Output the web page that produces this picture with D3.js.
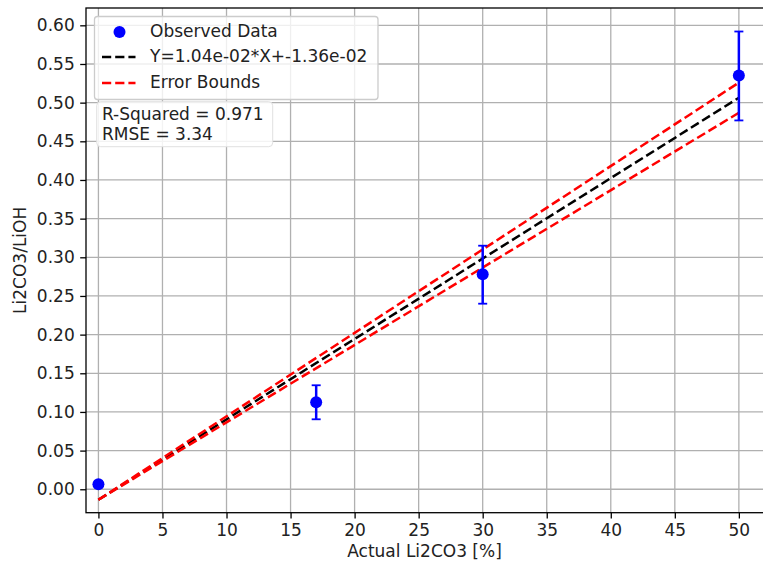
<!DOCTYPE html>
<html><head><meta charset="utf-8">
<script src="https://cdn.jsdelivr.net/npm/d3@7/dist/d3.min.js"></script>
<style>body{margin:0;background:#fff;}svg{display:block;font-family:"DejaVu Sans",sans-serif;}</style>
</head><body>
<svg id="c" width="763" height="569"></svg>
<script>
// ---- data ----
const xValues = [0, 17, 30, 50];
const yValues = [0.0065, 0.1125, 0.278, 0.535];
const yErrLow = [0.0, 0.022, 0.038, 0.058];
const yErrHigh = [0.0, 0.022, 0.037, 0.057];
const fitSlope = 0.0104;
const fitIntercept = -0.0136;
const upperSlope = 0.01079;
const lowerSlope = 0.01001;
const xTicks = [0, 5, 10, 15, 20, 25, 30, 35, 40, 45, 50];
const yTicks = [0.00, 0.05, 0.10, 0.15, 0.20, 0.25, 0.30, 0.35, 0.40, 0.45, 0.50, 0.55, 0.60];
const legendLabels = ["Observed Data", "Y=1.04e-02*X+-1.36e-02", "Error Bounds"];
const statsLines = ["R-Squared = 0.971", "RMSE = 3.34"];
const xLabel = "Actual Li2CO3 [%]";
const yLabel = "Li2CO3/LiOH";

// ---- layout ----
const L = 86, R = 765, T = 8, B = 512.7;
const fs = 17;
const x = d3.scaleLinear().domain([-0.97, 52.04]).range([L, R]);
const y = d3.scaleLinear().domain([-0.0303, 0.6224]).range([B, T]);
const svg = d3.select("#c");
const textCol = "#222";

// grid
const g = svg.append("g");
g.selectAll(".gx").data(xTicks).enter().append("line")
  .attr("x1", d => x(d)).attr("x2", d => x(d)).attr("y1", T).attr("y2", B)
  .attr("stroke", "#b0b0b0").attr("stroke-width", 1.3);
g.selectAll(".gy").data(yTicks).enter().append("line")
  .attr("x1", L).attr("x2", R).attr("y1", d => y(d)).attr("y2", d => y(d))
  .attr("stroke", "#b0b0b0").attr("stroke-width", 1.3);

// axes
const xAxis = d3.axisBottom(x).tickValues(xTicks).tickFormat(d3.format("d")).tickSize(5.8).tickPadding(5.5);
const yAxis = d3.axisLeft(y).tickValues(yTicks).tickFormat(d3.format(".2f")).tickSize(5.8).tickPadding(5.5);
const ax = svg.append("g").attr("transform", `translate(0,${B})`).call(xAxis);
const ay = svg.append("g").attr("transform", `translate(${L},0)`).call(yAxis);
[ax, ay].forEach(a => {
  a.select(".domain").remove();
  a.selectAll(".tick line").attr("stroke", "#000").attr("stroke-width", 1.3);
  a.selectAll(".tick text").attr("fill", textCol).style("font-size", fs + "px").style("font-family", "DejaVu Sans");
});

// spines
svg.append("rect").attr("x", L).attr("y", T).attr("width", R - L).attr("height", B - T)
  .attr("fill", "none").attr("stroke", "#000").attr("stroke-width", 1.3);

// lines
const xMin = d3.min(xValues), xMax = d3.max(xValues);
const line = d3.line().x(d => x(d[0])).y(d => y(d[1]));
const mk = s => [[xMin, s * xMin + fitIntercept], [xMax, s * xMax + fitIntercept]];
const dash = "9.2,4";
svg.append("path").attr("d", line(mk(fitSlope))).attr("fill", "none").attr("stroke", "#000").attr("stroke-width", 2.5).attr("stroke-dasharray", dash);
svg.append("path").attr("d", line(mk(upperSlope))).attr("fill", "none").attr("stroke", "#ff0000").attr("stroke-width", 2.5).attr("stroke-dasharray", dash);
svg.append("path").attr("d", line(mk(lowerSlope))).attr("fill", "none").attr("stroke", "#ff0000").attr("stroke-width", 2.5).attr("stroke-dasharray", dash);

// error bars
const pts = xValues.map((v, i) => ({x: v, y: yValues[i], lo: yValues[i] - yErrLow[i], hi: yValues[i] + yErrHigh[i]}));
const eb = svg.append("g").attr("stroke", "#0000ff").attr("stroke-width", 2.5);
pts.filter(p => p.hi - p.lo > 0).forEach(p => {
  eb.append("line").attr("x1", x(p.x)).attr("x2", x(p.x)).attr("y1", y(p.lo)).attr("y2", y(p.hi));
  eb.append("line").attr("x1", x(p.x) - 4.5).attr("x2", x(p.x) + 4.5).attr("y1", y(p.lo)).attr("y2", y(p.lo)).attr("stroke-width", 1.8);
  eb.append("line").attr("x1", x(p.x) - 4.5).attr("x2", x(p.x) + 4.5).attr("y1", y(p.hi)).attr("y2", y(p.hi)).attr("stroke-width", 1.8);
});
svg.append("g").selectAll("circle").data(pts).enter().append("circle")
  .attr("cx", d => x(d.x)).attr("cy", d => y(d.y)).attr("r", 6).attr("fill", "#0000ff");

// legend
const lg = svg.append("g");
lg.append("rect").attr("x", 94.5).attr("y", 16.5).attr("width", 283.5).attr("height", 83)
  .attr("rx", 3).attr("fill", "#fff").attr("fill-opacity", 0.8).attr("stroke", "#cccccc").attr("stroke-width", 1.3);
const rowsY = [31, 56, 82];
lg.append("circle").attr("cx", 119.5).attr("cy", rowsY[0] + 1).attr("r", 6).attr("fill", "#0000ff");
lg.append("line").attr("x1", 102).attr("x2", 135.5).attr("y1", rowsY[1] + 1).attr("y2", rowsY[1] + 1)
  .attr("stroke", "#000").attr("stroke-width", 2.5).attr("stroke-dasharray", dash);
lg.append("line").attr("x1", 102).attr("x2", 135.5).attr("y1", rowsY[2] + 1).attr("y2", rowsY[2] + 1)
  .attr("stroke", "#ff0000").attr("stroke-width", 2.5).attr("stroke-dasharray", dash);
lg.selectAll("text").data(legendLabels).enter().append("text")
  .attr("x", 150).attr("y", (d, i) => rowsY[i]).attr("dy", "0.35em")
  .attr("fill", textCol).style("font-size", fs + "px").text(d => d);

// stats box
const sb = svg.append("g");
sb.append("rect").attr("x", 96.7).attr("y", 101.7).attr("width", 176).attr("height", 45)
  .attr("rx", 4).attr("fill", "#fff").attr("fill-opacity", 0.85).attr("stroke", "#e0e0e0").attr("stroke-width", 1);
sb.selectAll("text").data(statsLines).enter().append("text")
  .attr("x", 102).attr("y", (d, i) => 114 + i * 20.5).attr("dy", "0.35em")
  .attr("fill", textCol).style("font-size", fs + "px").text(d => d);

// axis labels
svg.append("text").attr("x", (L + 763) / 2).attr("y", 551).attr("dy", "0.35em").attr("text-anchor", "middle")
  .attr("fill", textCol).style("font-size", fs + "px").text(xLabel);
svg.append("text").attr("transform", `translate(20,${(T + B) / 2}) rotate(-90)`).attr("dy", "0.35em").attr("text-anchor", "middle")
  .attr("fill", textCol).style("font-size", fs + "px").text(yLabel);
</script>
</body></html>
